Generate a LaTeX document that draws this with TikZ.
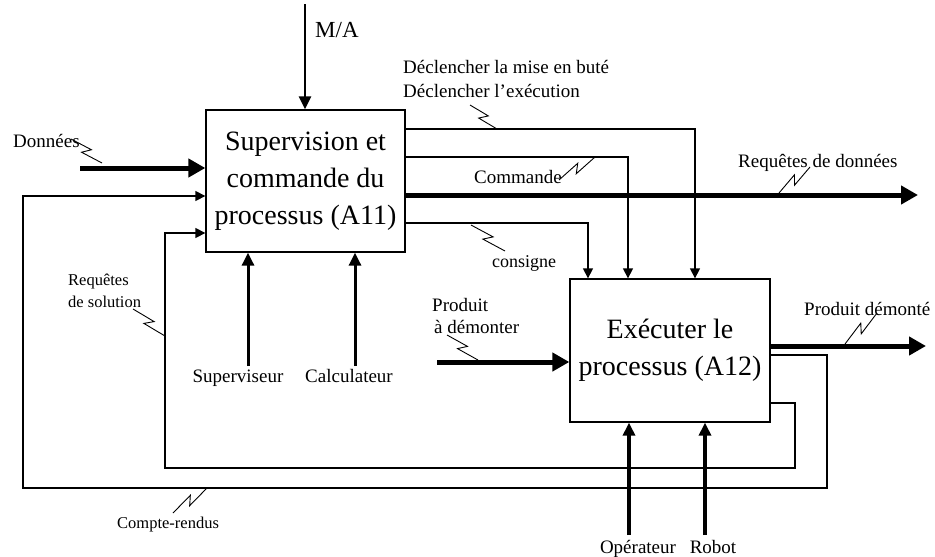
\documentclass[tikz,border=0pt]{standalone}
\usepackage{fontspec}
\setmainfont{Liberation Serif}
\usetikzlibrary{arrows.meta,calc}
\begin{document}
\begin{tikzpicture}[x=1pt,y=-1pt,
  box/.style={draw,line width=1.3pt,inner sep=0pt,align=center,font=\fontsize{28}{37}\selectfont},
  thin/.style={line width=1.3pt},
  thinarr/.style={line width=1.3pt,-{Triangle[length=10pt,width=10pt]}},
  medarr/.style={line width=3pt,-{Triangle[length=13pt,width=12pt]}},
  bigarr/.style={line width=5pt,-{Triangle[length=17pt,width=18pt]}},
  lbl/.style={inner sep=0pt,font=\fontsize{19}{23}\selectfont},
  slbl/.style={inner sep=0pt,font=\fontsize{16.5}{22}\selectfont},
  squig/.style={line width=0.9pt,to path={-- ($(\tikztostart)!0.58!(\tikztotarget)!4pt!90:(\tikztotarget)$) -- ($(\tikztostart)!0.42!(\tikztotarget)!4pt!-90:(\tikztotarget)$) -- (\tikztotarget)}}
]
\useasboundingbox (0,0) rectangle (935,557);

% boxes
\node[box,minimum width=199pt,minimum height=142pt] (A11) at (305.5,181)
  {Supervision et\\commande du\\processus (A11)};
\node[box,minimum width=200pt,minimum height=143pt] (A12) at (670,350.5)
  {Exécuter le\\processus (A12)};

% M/A
\coordinate (ma) at (305,4);
\draw[medarr,line width=2.5pt] (ma) -- (ma |- A11.north);
\node[lbl,font=\fontsize{23}{26}\selectfont,anchor=base west] (maL) at (315,37) {M/A};

% Données
\coordinate (dn) at (80,168);
\draw[bigarr] (dn) -- (dn -| A11.west);
\node[lbl,anchor=base west] (dnL) at (13,147) {Données};
\draw[squig] (71,139) to (102,163);

% Requêtes de données
\coordinate (rd0) at (0,195);
\coordinate (rd) at (918,195);
\draw[bigarr] (rd0 -| A11.east) -- (rd);
\node[lbl,anchor=base west] (rdL) at (738,167) {Requêtes de données};
\draw[squig] (810,167) to (779,193);

% Déclencher
\coordinate (dc) at (695,129);
\draw[thinarr] (dc -| A11.east) -- (dc) -- (dc |- A12.north);
\node[lbl,anchor=base west] (dcL1) at (403,73) {Déclencher la mise en buté};
\node[lbl,anchor=base west] (dcL2) at (403,97) {Déclencher l’exécution};
\draw[squig] (470,105) to (497,129);

% Commande
\coordinate (cm) at (628,157);
\draw[thinarr] (cm -| A11.east) -- (cm) -- (cm |- A12.north);
\node[lbl,anchor=base west] (cmL) at (474,183) {Commande};
\draw[squig] (559,180) to (595,157);

% consigne
\coordinate (cs) at (588,223);
\draw[thinarr] (cs -| A11.east) -- (cs) -- (cs |- A12.north);
\node[lbl,font=\fontsize{18}{22}\selectfont,anchor=base west] (csL) at (492,267) {consigne};
\draw[squig] (471,225) to (505,251);

% Produit à démonter
\coordinate (pa) at (437,362);
\draw[bigarr] (pa) -- (pa -| A12.west);
\node[lbl,anchor=base west] (paL1) at (432,311) {Produit};
\node[lbl,anchor=base west] (paL2) at (434,333) {à démonter};
\draw[squig] (447,335) to (478,360);

% Produit démonté
\coordinate (pd0) at (0,346);
\coordinate (pd) at (926,346);
\draw[bigarr] (pd0 -| A12.east) -- (pd);
\node[lbl,anchor=base west] (pdL) at (804,315) {Produit démonté};
\draw[squig] (877,313) to (845,344);

% Superviseur / Calculateur
\node[lbl,anchor=base] (sv) at (238,382) {Superviseur};
\node[lbl,anchor=base] (ca) at (349,382) {Calculateur};
\coordinate (svs) at (248,366);
\coordinate (cas) at (355,366);
\draw[medarr] (svs) -- (svs |- A11.south);
\draw[medarr] (cas) -- (cas |- A11.south);

% Opérateur / Robot
\node[lbl,anchor=base] (op) at (638,553) {Opérateur};
\node[lbl,anchor=base] (ro) at (713,553) {Robot};
\coordinate (ops) at (629,535);
\coordinate (ros) at (705,535);
\draw[medarr,line width=3.5pt] (ops) -- (ops |- A12.south);
\draw[medarr,line width=3.5pt] (ros) -- (ros |- A12.south);

% Compte-rendus loop
\coordinate (cr1) at (827,355);
\coordinate (cr2) at (827,488);
\coordinate (cr3) at (23,488);
\coordinate (cr4) at (23,196);
\draw[thinarr] (cr1 -| A12.east) -- (cr1) -- (cr2) -- (cr3) -- (cr4) -- (cr4 -| A11.west);
\node[slbl,anchor=base west] (crL) at (117,528) {Compte-rendus};
\draw[squig] (173,513) to (207,488);

% Requêtes de solution loop
\coordinate (rs1) at (795,403);
\coordinate (rs2) at (795,468);
\coordinate (rs3) at (165,468);
\coordinate (rs4) at (165,233);
\draw[thinarr] (rs1 -| A12.east) -- (rs1) -- (rs2) -- (rs3) -- (rs4) -- (rs4 -| A11.west);
\node[slbl,anchor=base west] (rsL1) at (68,285) {Requêtes};
\node[slbl,anchor=base west] (rsL2) at (68,307) {de solution};
\draw[squig] (133,309) to (165,336);
\end{tikzpicture}
\end{document}
